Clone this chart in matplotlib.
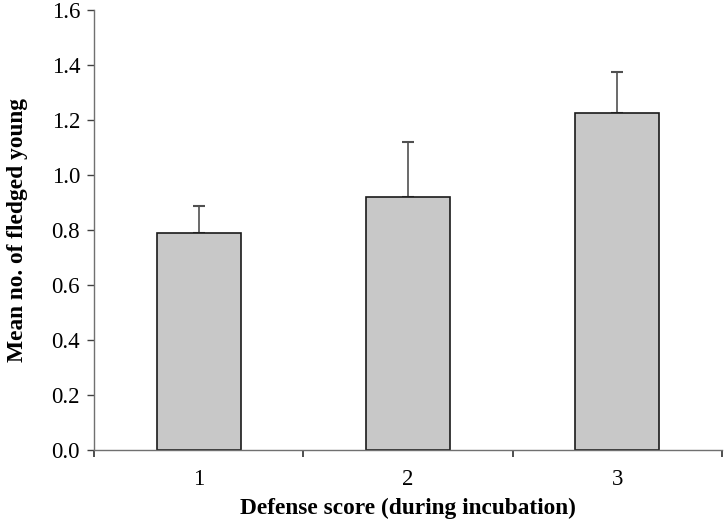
import matplotlib
matplotlib.use("Agg")
import matplotlib.pyplot as plt
import numpy as np

categories = ["1", "2", "3"]
means = [0.79, 0.92, 1.224]
upper_err = [0.096, 0.20, 0.150]
y_ticks = [0.0, 0.2, 0.4, 0.6, 0.8, 1.0, 1.2, 1.4, 1.6]

plt.rcParams['font.family'] = ['Liberation Serif', 'DejaVu Serif']

fig = plt.figure(figsize=(7.24, 5.24), dpi=100)
ax = fig.add_axes([94/724, 74/524, (722-94)/724, 440/524])

x = np.arange(len(categories)) + 0.5
ax.bar(x, means, width=0.40, color="#c8c8c8", edgecolor="#1a1a1a", linewidth=1.2, zorder=2)
ax.errorbar(x, means, yerr=[np.zeros(len(means)), upper_err], fmt="none",
            ecolor="#505050", elinewidth=1.2, capsize=4, capthick=1.5, zorder=1)

ax.set_xlim(0, 3)
ax.set_ylim(0, 1.6)
ax.set_yticks(y_ticks)
ax.set_yticklabels([f"{v:.1f}" for v in y_ticks], fontsize=16.5)
ax.set_xticks(x)
ax.set_xticklabels(categories, fontsize=16.5)
ax.set_xticks([0, 1, 2, 3], minor=True)
ax.tick_params(axis="x", which="major", length=0, pad=14)
ax.tick_params(axis="x", which="minor", length=5, width=1.2, direction="out", color="#303030")
ax.tick_params(axis="y", which="major", length=5, width=1.0, direction="out", color="#404040", pad=5)

for s in ["top", "right"]:
    ax.spines[s].set_visible(False)
for s in ["left", "bottom"]:
    ax.spines[s].set_color("#707070")
    ax.spines[s].set_linewidth(1.0)

ax.set_xlabel("Defense score (during incubation)", fontsize=16.8, fontweight="bold", labelpad=5)
ax.set_ylabel("Mean no. of fledged young", fontsize=16.8, fontweight="bold", labelpad=17)

fig.savefig("out.png", dpi=100)
